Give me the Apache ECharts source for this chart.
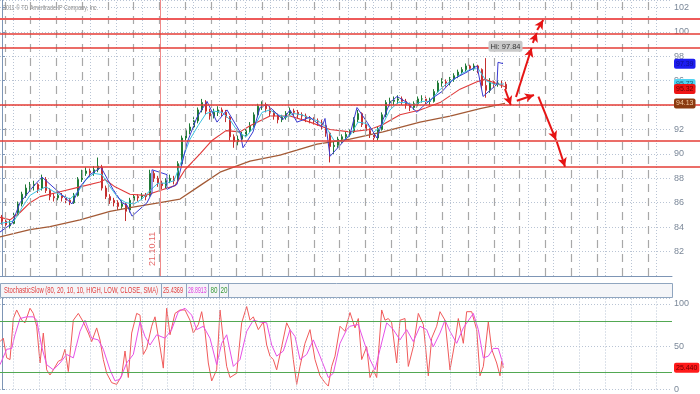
<!DOCTYPE html>
<html><head><meta charset="utf-8">
<script src="https://cdn.jsdelivr.net/npm/echarts/dist/echarts.min.js"></script>
<style>html,body{margin:0;padding:0;background:#fff}#c{width:700px;height:394px}</style>
</head><body><div id="c"></div>
<script>
// ---------- data ----------
// [open, close, low, high] per bar
const ohlc = [
[84.8,84.5,84.2,85.0],[84.5,84.2,83.8,84.6],[84.1,84.3,83.9,84.6],[84.3,85.0,84.2,85.2],[85.0,85.9,84.9,86.1],
[85.9,86.7,85.7,86.9],[86.6,87.2,86.4,87.5],[87.1,87.4,86.9,87.7],[87.4,87.5,87.0,87.8],[87.5,87.1,86.8,87.6],
[87.2,88.0,87.0,88.3],[87.9,87.0,86.8,88.1],[87.0,86.5,86.2,87.2],[86.5,86.4,86.1,86.8],[86.4,86.6,86.2,86.9],
[86.6,86.4,86.1,86.8],[86.4,86.2,85.9,86.6],[86.2,86.0,85.8,86.4],[86.0,86.6,85.9,86.8],[86.6,87.9,86.5,88.1],
[87.9,88.5,87.7,88.7],[88.4,88.6,88.2,88.9],[88.6,88.4,88.1,88.8],[88.4,88.7,88.2,89.0],[88.7,89.0,88.5,89.7],
[88.9,87.2,87.0,89.1],[87.2,86.5,86.3,87.4],[86.5,86.2,85.9,86.7],[86.2,86.0,85.7,86.4],[86.0,85.7,85.4,86.2],
[85.7,85.9,85.5,86.2],[85.9,85.3,84.5,86.0],[85.4,86.2,85.2,86.4],[86.2,86.5,86.0,86.7],[86.5,86.4,86.1,86.7],
[86.4,86.6,86.2,86.8],[86.6,86.5,86.2,86.8],[86.6,88.4,86.5,88.7],[88.4,88.0,87.7,88.6],[88.0,87.6,87.3,88.2],
[87.6,87.4,87.1,87.8],[87.4,87.8,87.2,88.0],[87.8,88.0,87.6,88.3],[88.0,87.8,87.5,88.2],[87.9,89.2,87.8,89.4],
[89.2,91.3,89.1,91.5],[91.3,91.9,91.1,92.1],[91.9,92.2,91.6,92.5],[92.2,92.7,92.0,93.0],[92.7,93.6,92.5,93.8],
[93.6,94.2,93.4,94.5],[94.2,93.5,93.2,94.4],[93.5,93.1,92.8,93.7],[93.1,93.4,92.9,93.7],[93.4,93.6,93.1,93.9],
[93.6,93.4,93.1,93.8],[93.4,93.0,92.6,93.6],[93.0,91.4,91.1,93.1],[91.4,91.0,90.5,91.6],[91.0,91.2,90.7,91.5],
[91.2,91.5,91.0,91.8],[91.5,91.9,91.3,92.1],[91.9,92.3,91.7,92.6],[92.3,93.2,92.1,93.4],[93.2,93.9,93.0,94.1],
[93.9,94.0,93.6,94.3],[94.0,93.7,93.4,94.2],[93.7,93.4,93.1,93.9],[93.4,93.1,92.8,93.6],[93.1,92.8,92.5,93.3],
[92.8,93.0,92.6,93.2],[93.0,93.3,92.8,93.5],[93.3,93.5,93.1,93.8],[93.5,93.4,93.1,93.7],[93.4,93.2,92.9,93.6],
[93.2,93.1,92.8,93.4],[93.1,92.9,92.6,93.3],[92.9,92.8,92.5,93.1],[92.8,92.7,92.4,93.0],[92.7,92.6,92.3,92.9],
[92.6,92.3,92.0,92.8],[92.3,91.7,91.4,92.4],[91.7,90.6,89.3,91.8],[90.6,90.7,90.0,91.0],[90.7,91.2,90.5,91.4],
[91.2,91.4,90.9,91.6],[91.4,91.6,91.2,91.8],[91.6,91.8,91.4,92.0],[91.8,92.8,91.7,93.0],[92.8,93.3,92.6,93.6],
[93.3,92.4,92.2,93.4],[92.4,91.9,91.7,92.6],[91.9,91.6,91.3,92.1],[91.6,91.3,91.0,91.8],[91.3,92.0,91.1,92.2],
[92.0,93.2,91.9,93.4],[93.2,94.2,93.0,94.4],[94.2,94.3,93.9,94.6],[94.3,94.4,94.0,94.7],[94.4,94.5,94.1,94.8],
[94.5,94.3,94.0,94.7],[94.3,94.0,93.7,94.5],[94.0,93.8,93.5,94.2],[93.8,94.1,93.6,94.3],[94.1,94.5,93.9,94.7],
[94.5,94.5,94.2,94.8],[94.5,94.3,94.0,94.7],[94.3,94.3,94.0,94.6],[94.3,95.1,94.2,95.3],[95.1,95.8,95.0,96.0],
[95.8,95.9,95.5,96.2],[95.9,95.8,95.5,96.1],[95.8,96.1,95.6,96.3],[96.1,96.4,95.9,96.6],[96.4,96.7,96.2,96.9],
[96.7,96.9,96.5,97.1],[96.9,97.2,96.7,97.4],[97.2,97.0,96.8,97.3],[97.0,97.2,96.8,97.4],[97.2,96.9,96.6,97.3],
[96.9,95.6,95.3,97.0],[95.6,95.2,94.6,97.84],[95.2,95.9,95.0,96.2],[95.9,95.7,95.4,96.0],[95.7,95.8,95.5,96.0],
[95.8,95.7,95.4,96.0],[95.7,95.32,95.2,95.9]
];
// [bar index, value]
const brownMA = [[-0.5,83.2],[7,83.8],[12,84.05],[19.5,84.6],[27,85.3],[32,85.6],[39.5,86.0],[44.5,86.3],[49.5,87.4],[54.5,88.5],[62,89.4],[69.5,89.9],[78.75,90.8],[87,91.2],[95.25,91.8],[104.5,92.6],[112,93.1],[119.5,93.7],[125.75,94.13]];
const redMA = [[-0.5,84.8],[2,84.6],[4.5,85.2],[7,86.0],[9.5,86.5],[14.5,86.9],[19.5,87.3],[24.5,87.7],[25.75,87.9],[28.25,87.3],[32,86.7],[35.75,86.6],[39.5,87.0],[43.25,87.4],[45.75,88.7],[49.5,90.0],[52.5,91.1],[56,91.9],[59.5,91.8],[62,92.3],[67,93.1],[72,93.1],[77,92.6],[82,92.0],[87,91.8],[92,92.0],[95.25,92.4],[99.5,93.2],[104.5,93.6],[109.5,94.2],[114.5,95.3],[118.75,95.9],[120.75,96.1],[123.25,95.8],[125.75,95.5]];
const cyanMA = [[-0.5,84.3],[3,84.5],[5,85.6],[7,86.6],[9,87.0],[11,87.3],[13,86.9],[15,86.6],[17,86.3],[19,86.9],[21,87.9],[23,88.4],[25,88.3],[27,87.3],[29,86.4],[31,86.0],[33,85.9],[35,86.3],[37,87.0],[39,87.6],[41,87.6],[43,87.8],[45,89.5],[47,91.2],[49,92.3],[51,93.3],[53,93.5],[55,93.4],[57,92.8],[59,91.8],[61,91.4],[63,92.2],[65,93.4],[67,93.6],[69,93.2],[71,93.0],[73,93.3],[75,93.2],[77,92.9],[79,92.7],[81,92.2],[83,91.1],[85,91.0],[87,91.5],[89,92.6],[91,92.5],[93,91.8],[95,92.3],[97,93.6],[99,94.2],[101,94.2],[103,94.0],[105,94.3],[107,94.3],[109,95.1],[111,95.7],[113,96.1],[115,96.6],[117,96.9],[119,97.0],[121,96.0],[123,95.7],[125.5,95.73]];
const blueTrail = [[-0.5,83.6],[2.5,84.3],[4.5,86.0],[7.75,87.3],[10,88.1],[17.5,85.9],[19.5,87.3],[22,88.3],[24.75,88.9],[27.75,87.1],[30,86.0],[31.25,85.8],[32.5,84.9],[36.25,86.0],[37.5,86.8],[37.5,88.7],[41.25,88.3],[41.25,87.1],[43.75,87.5],[46.25,90.9],[48.75,93.0],[51.25,94.3],[53.75,92.6],[56.25,93.6],[59.5,91.8],[60.25,90.5],[62.75,91.8],[64.5,93.8],[66.25,94.05],[70.25,92.8],[72,93.6],[73.75,92.6],[77,93.0],[80,92.2],[80.75,92.9],[82,89.8],[87,91.6],[88.75,93.8],[91.25,92.6],[93.75,91.3],[95.25,92.8],[97,94.2],[98.75,94.7],[101.25,94.2],[103.75,93.4],[105.25,93.9],[107.75,94.6],[110,95.1],[112.75,96.1],[116.25,96.7],[118.75,97.2],[120.25,94.7],[120.75,94.6],[123.75,95.7],[124,97.5],[125.25,97.39]];
const levels = [101.1, 99.85, 98.67, 94.0, 91.05, 88.95];
const priceTags = [97.39, 95.73, 95.32, 94.13];
const dateMarkIndex = 39.5;
const dateMarkLabel = '21.10.11';
// arrows [x1, y1, x2, y2] in bar index / price
const arrows = [
[125.75,95.31,127.2,94.0],[128.5,94.66,132.4,98.67],[132.7,99.08,133.7,99.9],[133.8,100.14,135.3,100.96],
[128.7,94.35,133.0,94.82],[134.1,94.68,138.5,91.13],[138.7,90.99,140.75,88.95]
];
const stochK = [[-0.5,56],[0.33,60],[1.17,37],[2,35],[2.83,83],[3.67,93],[4.92,81],[5.75,78],[7,95],[7.83,89],[8.67,74],[9.5,31],[10.33,66],[11.17,23],[12,17],[12.83,23],[14.08,33],[14.92,35],[15.75,47],[16.58,21],[17.83,81],[19.08,89],[20.33,79],[21.58,66],[22.42,56],[23.67,72],[24.5,58],[25.33,35],[26.17,19],[27.42,8],[28.67,6],[29.92,16],[30.75,45],[31.58,14],[32.42,66],[33.67,89],[34.5,87],[35.33,41],[36.17,48],[37.42,74],[38.25,85],[39.5,50],[40.33,25],[41.17,95],[42,64],[43.25,89],[44.5,93],[45.75,93],[47,81],[47.83,66],[49.08,76],[49.92,91],[50.75,68],[51.58,31],[52.42,10],[53.67,23],[54.5,93],[55.33,58],[56.17,27],[57,14],[58.67,19],[59.92,78],[61.17,97],[62,81],[62.83,85],[64.08,70],[65.33,79],[66.17,52],[67,39],[67.83,35],[68.67,23],[69.92,50],[71.17,78],[72,70],[72.83,35],[73.67,6],[74.5,27],[75.75,54],[77,70],[78.25,35],[79.5,16],[80.75,8],[81.58,4],[82.42,27],[83.25,39],[84.5,74],[85.75,68],[87,90],[88.25,72],[89.08,83],[89.92,35],[91.17,50],[92,14],[92.83,23],[93.67,14],[94.92,93],[95.75,81],[96.58,83],[97.42,78],[98.67,31],[99.5,81],[100.75,83],[101.58,27],[102.83,50],[104.08,89],[105.33,76],[106.58,16],[107.42,60],[108.67,74],[109.5,91],[110.75,81],[112,23],[113.25,56],[114.08,83],[115.33,54],[116.17,91],[117.42,91],[118.67,70],[119.5,16],[120.33,27],[121.58,79],[122.42,47],[123.67,31],[124.5,16],[124.92,33],[125.33,25.44]];
const stochD = [[-0.5,29],[1.17,47],[2.42,48],[3.25,64],[4.5,83],[6.17,85],[7.83,85],[8.67,81],[9.92,50],[11.17,29],[12.83,23],[14.5,31],[16.17,41],[17.83,37],[19.5,68],[20.75,81],[22.42,60],[24.08,58],[25.33,47],[27,23],[28.25,10],[29.5,12],[31.17,31],[32.83,41],[34.5,79],[35.75,62],[37,52],[38.67,64],[40.75,60],[42.42,70],[44.08,91],[45.75,95],[47.42,87],[48.67,70],[50.33,74],[52,60],[53.67,29],[54.92,54],[56.17,64],[57.83,27],[59.5,35],[61.17,68],[62.83,81],[64.5,79],[66.17,78],[67.42,52],[68.67,39],[70.33,45],[72,70],[73.25,62],[74.5,35],[76.17,41],[77.83,58],[79.5,39],[81.58,14],[82.83,19],[84.5,54],[86.17,70],[87,74],[89.08,76],[90.33,58],[92,35],[93.25,23],[94.5,47],[96.17,78],[97.83,70],[99.5,58],[101.17,70],[102.83,56],[104.5,74],[106.17,70],[107.83,50],[109.5,66],[110.75,81],[112,68],[113.67,54],[115.33,72],[117.83,89],[119.08,70],[120.33,37],[121.58,39],[122.83,48],[124.08,48],[124.92,35],[125.33,28.89]];
const stochLevels = [80, 20];
const stochTag = 25.436;
const stochHeader = ['StochasticSlow (80, 20, 10, 10, HIGH, LOW, CLOSE, SMA)', '25.4369', '28.8913', '80', '20'];
const copyright = '2011 \u00A9 TD Ameritrade IP Company, Inc.';
const N = 168;
const categories = Array.from({length: N}, (_, i) => 'B' + (i + 1));

// ---------- styling helpers ----------
const pxToIdx = px => px / 4 - 0.5;
const dashX = [], dotX = [];
for (let k = 0; k < 26; k++) { dashX.push(pxToIdx(5 + 25.73 * k)); dotX.push(pxToIdx(13.3 + 25.73 * k)); }
const FONT = '"Liberation Sans", Arial, sans-serif';
const mctx = document.createElement('canvas').getContext('2d');
function fitText(text, x, y, width, color, size) {
  mctx.font = size + 'px ' + FONT;
  const w = mctx.measureText(text).width;
  return {type: 'text', x: x, y: y, scaleX: width / w, scaleY: 1, z: 100,
    style: {text: text, fill: color, font: size + 'px ' + FONT, align: 'left', verticalAlign: 'middle', textAlign: 'left', textVerticalAlign: 'middle'}};
}
const axisCol = '#7d95b5';
const labelCol = '#7b8899';
const gridDot = '#b9c4d4';
const hidden = {color: 'rgba(0,0,0,0)', width: 0.01, type: 'solid'};

const chart = echarts.init(document.getElementById('c'));
const option = {
  animation: false,
  backgroundColor: '#ffffff',
  grid: [
    {left: 0, right: 28, top: 0, height: 276},
    {left: 0, right: 28, top: 298, height: 92},
    {left: 0, right: 0, top: 0, height: 276}
  ],
  xAxis: [
    {type: 'category', gridIndex: 0, data: categories, boundaryGap: true,
     axisLine: {show: true, lineStyle: {color: axisCol, width: 1}}, axisTick: {show: false}, axisLabel: {show: false}, splitLine: {show: false}},
    {type: 'value', gridIndex: 0, min: -0.5, max: N - 0.5, show: false},
    {type: 'value', gridIndex: 1, min: -0.5, max: N - 0.5, show: false},
    {type: 'value', gridIndex: 2, min: 0, max: 1, show: false}
  ],
  yAxis: [
    {type: 'value', gridIndex: 0, position: 'right', min: 80, max: 102.6, interval: 2,
     axisLine: {show: true, lineStyle: {color: axisCol}}, axisTick: {show: true, length: 3, lineStyle: {color: axisCol}},
     axisLabel: {color: labelCol, fontSize: 9, margin: 2, fontFamily: FONT, showMinLabel: false},
     splitLine: {show: true, lineStyle: {color: gridDot, type: [1, 2], width: 1}}},
    {type: 'value', gridIndex: 1, position: 'right', min: 0, max: 107, interval: 50,
     axisLine: {show: true, lineStyle: {color: axisCol}}, axisTick: {show: true, length: 3, lineStyle: {color: axisCol}},
     axisLabel: {color: labelCol, fontSize: 9, margin: 2, fontFamily: FONT},
     splitLine: {show: true, lineStyle: {color: gridDot, type: [1, 2], width: 1}}},
    {type: 'value', gridIndex: 2, min: 80, max: 102.6, show: false}
  ],
  series: [
    // vertical grid lines (main)
    {type: 'line', xAxisIndex: 1, yAxisIndex: 0, data: [], silent: true, z: 1,
     markLine: {silent: true, symbol: ['none', 'none'], label: {show: false}, animation: false,
       data: dashX.map(v => ({xAxis: v, lineStyle: {type: [8, 6], color: '#a8a8a8', width: 1.2}}))
         .concat(dotX.map(v => ({xAxis: v, lineStyle: {type: [1, 2], color: gridDot, width: 1}})))
         .concat([{xAxis: dateMarkIndex, lineStyle: {type: 'solid', color: '#f08a8a', width: 1},
           label: {show: true, formatter: dateMarkLabel, position: 'insideStartTop', color: '#e66a6a', fontSize: 9, fontFamily: FONT, distance: [10, 3]}}])}},
    // vertical grid lines (stoch)
    {type: 'line', xAxisIndex: 2, yAxisIndex: 1, data: [], silent: true, z: 1,
     markLine: {silent: true, symbol: ['none', 'none'], label: {show: false}, animation: false,
       data: dotX.map(v => ({xAxis: v, lineStyle: {type: [1, 2], color: gridDot, width: 1}}))}},
    // candles
    {type: 'candlestick', xAxisIndex: 0, yAxisIndex: 0, data: ohlc, barWidth: 2.4, z: 2,
     itemStyle: {color: '#3aaa55', color0: '#e04545', borderColor: '#1f7a36', borderColor0: '#c43030', borderWidth: 1},
     markPoint: {symbol: 'rect', symbolSize: 1, itemStyle: {color: 'rgba(0,0,0,0)'},
       data: [{type: 'max', valueDim: 'highest'}],
       label: {show: true, formatter: p => 'Hi: ' + p.value, position: [3, -17], color: '#333', fontSize: 7.5, fontFamily: FONT,
         backgroundColor: '#c9c9c9', borderRadius: 2, padding: [2, 2, 1, 2]}}},
    {type: 'line', xAxisIndex: 1, yAxisIndex: 0, data: brownMA, symbol: 'none', z: 3, lineStyle: {color: '#a35a36', width: 1.3}},
    {type: 'line', xAxisIndex: 1, yAxisIndex: 0, data: redMA, symbol: 'none', z: 3, lineStyle: {color: '#e03a3a', width: 1.1}},
    {type: 'line', xAxisIndex: 1, yAxisIndex: 0, data: cyanMA, symbol: 'none', z: 3, lineStyle: {color: '#3cc0e0', width: 1}},
    {type: 'line', xAxisIndex: 1, yAxisIndex: 0, data: blueTrail, symbol: 'none', z: 3, lineStyle: {color: '#3a3ad0', width: 1}},
    // horizontal red levels (full width)
    {type: 'line', xAxisIndex: 3, yAxisIndex: 2, data: [], silent: true, z: 4,
     markLine: {silent: true, symbol: ['none', 'none'], label: {show: false}, animation: false,
       data: levels.map((v, i) => ({yAxis: v, lineStyle: {type: 'solid', color: i === 0 ? '#ee5a5a' : '#e43c36', width: i === 0 ? 2.2 : 1.5}}))}},
    // arrows
    {type: 'line', xAxisIndex: 1, yAxisIndex: 0, data: [], silent: true, z: 5,
     markLine: {silent: true, symbol: ['none', 'arrow'], symbolSize: [7, 9], label: {show: false}, animation: false,
       lineStyle: {type: 'solid', color: '#e61414', width: 2},
       data: arrows.map(a => [{coord: [a[0], a[1]]}, {coord: [a[2], a[3]]}])}},
    // price tags on the right
    {type: 'line', xAxisIndex: 1, yAxisIndex: 0, data: [], silent: true, z: 10,
     markLine: {silent: true, symbol: ['none', 'none'], animation: false, lineStyle: hidden,
       label: {show: true, position: 'end', distance: 2, fontSize: 7, fontFamily: FONT, padding: [2, 2, 1, 2], borderRadius: 2,
         formatter: p => p.value.toFixed(2)},
       data: [
         {yAxis: priceTags[0], label: {backgroundColor: '#1c1cf0', color: '#10108a'}},
         {yAxis: priceTags[1], label: {backgroundColor: '#4fd3f2', color: '#1a5a70'}},
         {yAxis: priceTags[2], label: {backgroundColor: '#ee1515', color: '#6a0000'}},
         {yAxis: priceTags[3], label: {backgroundColor: '#8a3a10', color: '#f3c9a0'}}
       ]}},
    // stochastic
    {type: 'line', xAxisIndex: 2, yAxisIndex: 1, data: stochK, symbol: 'none', z: 3, lineStyle: {color: '#f05a5a', width: 1},
     markLine: {silent: true, symbol: ['none', 'none'], animation: false, label: {show: false},
       lineStyle: {type: 'solid', color: '#52a852', width: 1},
       data: stochLevels.map(v => ({yAxis: v}))}},
    {type: 'line', xAxisIndex: 2, yAxisIndex: 1, data: stochD, symbol: 'none', z: 3, lineStyle: {color: '#e650e6', width: 1}},
    {type: 'line', xAxisIndex: 2, yAxisIndex: 1, data: [], silent: true, z: 10,
     markLine: {silent: true, symbol: ['none', 'none'], animation: false, lineStyle: hidden,
       label: {show: true, position: 'end', distance: 2, fontSize: 7, fontFamily: FONT, padding: [2, 2, 1, 2], borderRadius: 2,
         backgroundColor: '#ff1a1a', color: '#6a0000', formatter: p => p.value.toFixed(3)},
       data: [{yAxis: stochTag}]}}
  ],
  graphic: [
    {type: 'rect', shape: {x: 0.5, y: 283.5, width: 672, height: 14}, style: {fill: '#f4f5f8', stroke: '#8fa5bf', lineWidth: 1}, z: 50},
    {type: 'line', shape: {x1: 161.5, y1: 284, x2: 161.5, y2: 297}, style: {stroke: '#8fa5bf', lineWidth: 1}, z: 51},
    {type: 'line', shape: {x1: 186.5, y1: 284, x2: 186.5, y2: 297}, style: {stroke: '#8fa5bf', lineWidth: 1}, z: 51},
    {type: 'line', shape: {x1: 208.5, y1: 284, x2: 208.5, y2: 297}, style: {stroke: '#8fa5bf', lineWidth: 1}, z: 51},
    {type: 'line', shape: {x1: 219.5, y1: 284, x2: 219.5, y2: 297}, style: {stroke: '#8fa5bf', lineWidth: 1}, z: 51},
    {type: 'line', shape: {x1: 228.5, y1: 284, x2: 228.5, y2: 297}, style: {stroke: '#8fa5bf', lineWidth: 1}, z: 51},
    fitText(stochHeader[0], 4, 290.5, 154, '#e23c3c', 9),
    fitText(stochHeader[1], 163, 290.5, 20, '#e23c3c', 9),
    fitText(stochHeader[2], 188, 290.5, 18.5, '#e040e0', 9),
    fitText(stochHeader[3], 210.5, 290.5, 7, '#3a9a3a', 9),
    fitText(stochHeader[4], 220.5, 290.5, 7, '#3a9a3a', 9),
    fitText(copyright, 3, 8, 95, '#8c8c8c', 8)
  ]
};
chart.setOption(option);
</script>
</body></html>
